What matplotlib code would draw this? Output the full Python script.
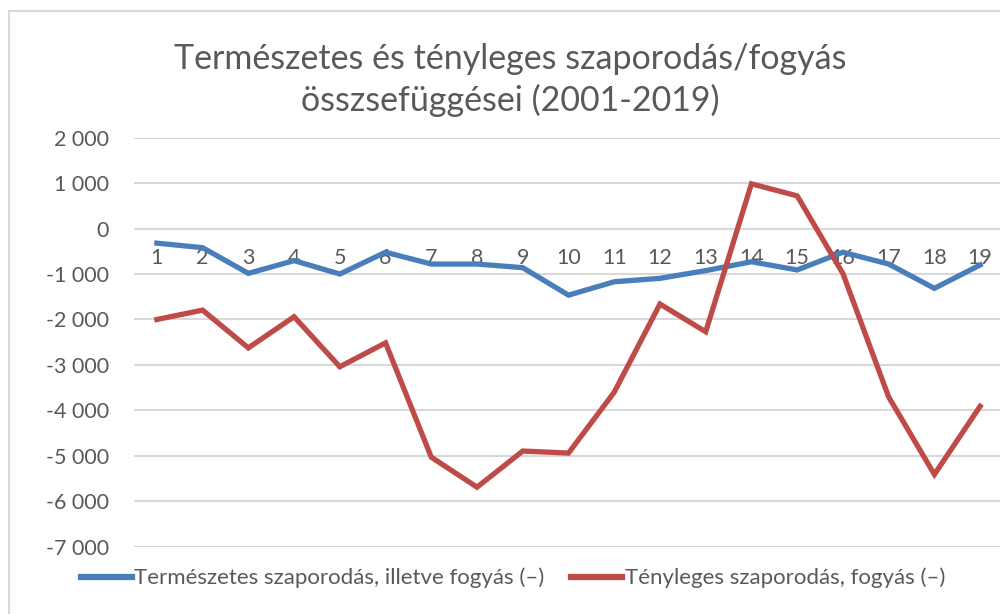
import matplotlib

matplotlib.use("Agg")
import matplotlib.pyplot as plt
from matplotlib.patches import Rectangle

# data
years = list(range(1, 20))
termeszetes = [-320, -420, -985, -705, -1000, -520, -780, -780, -860, -1465,
               -1170, -1095, -925, -730, -910, -520, -780, -1315, -800]
tenyleges = [-2000, -1795, -2625, -1940, -3040, -2515, -5030, -5690, -4895, -4940,
             -3600, -1660, -2270, 985, 720, -990, -3705, -5410, -3910]
yticks = list(range(-7000, 2001, 1000))
title = "Természetes és tényleges szaporodás/fogyás\nösszsefüggései (2001-2019)"
label_a = "Természetes szaporodás, illetve fogyás (–)"
label_b = "Tényleges szaporodás, fogyás (–)"

txt = "#595959"
grid = "#d9d9d9"
plt.rcParams["font.family"] = ["Lato", "DejaVu Sans"]

fig = plt.figure(figsize=(10, 6.14), dpi=100)
W, H = 1000, 614

# chart border (cut off at right / bottom like the screenshot)
fig.patches.append(Rectangle((8.5 / W, -0.1), 1.2, 1.1 - 11.5 / H,
                             transform=fig.transFigure, fill=False,
                             edgecolor=grid, lw=1.5))

ax = fig.add_axes([134 / W, 1 - 546.7 / H, 869 / W, (546.7 - 137.7) / H])
ax.plot(years, termeszetes, color="#4A7EBB", lw=3.8, solid_joinstyle="miter",
        label=label_a, zorder=3)
ax.plot(years, tenyleges, color="#BE4B48", lw=3.8, solid_joinstyle="miter",
        label=label_b, zorder=3)

ax.set_xlim(0.5, 19.5)
ax.set_ylim(-7000, 2000)
ax.set_yticks(yticks)
ax.set_yticklabels([f"{v:,}".replace(",", " ") for v in yticks])
ax.yaxis.grid(True, color=grid, lw=1.5)
ax.set_axisbelow(True)
for s in ax.spines.values():
    s.set_visible(False)

# category labels sit just under the zero line
ax.spines["bottom"].set_position(("data", 0))
ax.set_xticks(years)
ax.set_xticklabels([str(y) for y in years])
ax.tick_params(axis="x", length=0, pad=14, labelsize=15.5, labelcolor=txt)
ax.tick_params(axis="y", length=0, pad=18, labelsize=15.5, labelcolor=txt)
for lbl in ax.get_xticklabels():
    lbl.set_zorder(2)

fig.text(0.51, 1 - 80 / H, title, ha="center", va="center", fontsize=24.5,
         color=txt, linespacing=1.3)

leg = fig.legend(loc="center", bbox_to_anchor=(0.513, 1 - 578 / H), ncol=2,
                 frameon=False, fontsize=16, handlelength=2.3, handletextpad=0.1,
                 columnspacing=1.2)
for t in leg.get_texts():
    t.set_color(txt)
for h in leg.legend_handles:
    h.set_linewidth(4.5)

fig.savefig("out.png", dpi=100)
